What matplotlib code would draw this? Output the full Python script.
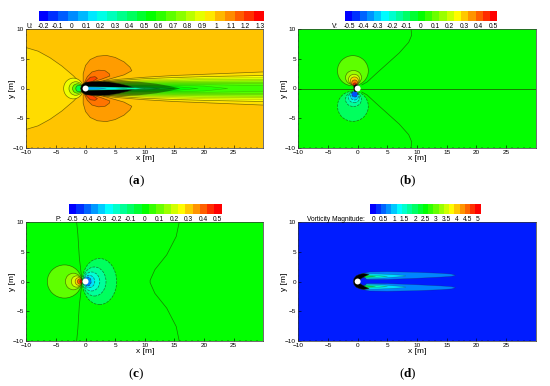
# -*- coding: utf-8 -*-
import matplotlib
matplotlib.use("Agg")
import matplotlib.pyplot as plt
import numpy as np
from matplotlib.colors import LinearSegmentedColormap, Normalize
from matplotlib.patches import Ellipse, Circle

plt.rcParams['font.family'] = ['Liberation Sans', 'DejaVu Sans']
plt.rcParams['mathtext.fontset'] = 'custom'
plt.rcParams['mathtext.bf'] = 'Liberation Serif:bold'

W, H = 550.0, 386.0

# --- data ---
x_ticks = [-10, -5, 0, 5, 10, 15, 20, 25]
y_ticks = [-10, -5, 0, 5, 10]

u_ticks = [-0.2, -0.1, 0, 0.1, 0.2, 0.3, 0.4, 0.5, 0.6, 0.7, 0.8, 0.9, 1, 1.1, 1.2, 1.3]
v_ticks = [-0.5, -0.4, -0.3, -0.2, -0.1, 0, 0.1, 0.2, 0.3, 0.4, 0.5]
p_ticks = [-0.5, -0.4, -0.3, -0.2, -0.1, 0, 0.1, 0.2, 0.3, 0.4, 0.5]
w_ticks = [0, 0.5, 1, 1.5, 2, 2.5, 3, 3.5, 4, 4.5, 5]

u_background = 1.01
v_background = 0.0
p_background = 0.0
w_background = 0.15

# U: shapes symmetric around y=0, upper half only (value, points)
u_front_lobe = (0.975, [(-10, 6.9), (-8, 6.3), (-6, 5.2), (-4, 3.8), (-2, 2.1), (-0.6, 0.6), (-0.5, 0)])
u_side_lobes = [
    (1.07, [(-0.4, 0.8), (-0.4, 2.5), (0, 3.9), (0.8, 4.9), (2, 5.45), (3.5, 5.6), (5, 5.25), (6.5, 4.5),
            (7.5, 3.6), (7.8, 3.0), (6.5, 2.3), (3, 1.3), (0.5, 0.8)]),
    (1.13, [(-0.2, 1.0), (0.3, 2.0), (1.1, 2.8), (2.2, 3.1), (3.3, 3.0), (4, 2.5), (4.1, 2.1), (2.5, 1.5), (0.8, 1.0)]),
    (1.2, [(0, 1.1), (0.8, 1.9), (1.6, 2.0), (2, 1.7), (1.2, 1.2), (0.5, 1.0)]),
]
u_wake = [
    (0.97, [(1, 1.0), (5, 1.5), (10, 1.9), (15, 2.2), (20, 2.4), (25, 2.6), (30, 2.8)]),
    (0.92, [(2, 0.9), (5, 1.3), (10, 1.65), (15, 1.85), (20, 2.0), (25, 2.1), (30, 2.2)]),
    (0.87, [(3, 0.9), (5, 1.15), (10, 1.45), (15, 1.6), (20, 1.75), (30, 1.85)]),
    (0.81, [(3, 0.8), (5, 1.05), (10, 1.3), (15, 1.4), (20, 1.5), (30, 1.55)]),
    (0.76, [(3, 0.7), (5, 0.95), (10, 1.15), (15, 1.2), (20, 1.25), (30, 1.3)]),
    (0.71, [(3, 0.6), (5, 0.85), (10, 1.0), (15, 1.05), (20, 1.05), (30, 1.05)]),
    (0.67, [(3, 0.5), (5, 0.75), (10, 0.85), (15, 0.9), (20, 0.85), (30, 0.8)]),
    (0.64, [(3, 0.4), (5, 0.65), (10, 0.7), (15, 0.72), (20, 0.65), (30, 0.5)]),
    (0.60, [(3, 0.35), (5, 0.55), (10, 0.55), (15, 0.55), (20, 0.42), (24, 0)]),
    (0.55, [(3, 0.3), (5, 0.45), (10, 0.45), (15, 0.35), (19, 0)]),
    (0.49, [(3, 0.3), (5, 0.38), (10, 0.3), (15, 0)]),
    (0.42, [(3, 0.3), (5, 0.3), (10, 0.2), (12.5, 0)]),
]
u_shade = [(3, 1.3), (6, 1.35), (9, 1.15), (12, 0.8), (14, 0.45), (16, 0)]
u_core = [(-0.85, 0), (-0.65, 0.6), (0, 1.05), (1, 1.15), (2.5, 1.2), (4, 1.1), (5.5, 0.85), (7, 0.5), (8.5, 0)]
u_strip = [
    (0.30, [(0.2, 0.3), (5, 0.24), (8, 0.15), (10, 0)]),
    (0.15, [(0.2, 0.26), (3, 0.2), (5, 0.12), (7, 0)]),
    (0.05, [(0.2, 0.2), (2, 0.14), (3.5, 0)]),
]
# ellipses: value, centre x, centre y, half width, half height
u_front_rings = [
    (0.90, -2.05, 0, 1.65, 1.75),
    (0.82, -1.65, 0, 1.15, 1.15),
    (0.68, -1.35, 0, 0.85, 0.8),
    (0.45, -1.1, 0, 0.55, 0.55),
]

v_upper_line = [(9, 10), (9.1, 9), (8.6, 7.8), (7, 6), (5, 4.2), (3, 2.4), (1.6, 1.1), (0.7, 0.6)]
v_upper_rings = [
    (0.09, -0.8, 3.0, 2.6, 2.55),
    (0.15, -0.7, 1.85, 1.35, 1.2),
    (0.21, -0.6, 1.5, 0.95, 0.9),
    (0.30, -0.55, 1.25, 0.7, 0.7),
    (0.38, -0.5, 0.95, 0.5, 0.5),
    (0.47, -0.45, 0.65, 0.3, 0.3),
]
v_lower_rings = [
    (-0.09, -0.8, -3.0, 2.6, 2.55),
    (-0.15, -0.7, -1.85, 1.35, 1.2),
    (-0.21, -0.6, -1.5, 0.95, 0.9),
    (-0.30, -0.55, -1.25, 0.7, 0.7),
    (-0.42, -0.5, -0.95, 0.5, 0.5),
]
v_core = [(-0.65, 0.0), (-0.65, 0.5), (-0.3, 0.7), (0.1, 0.55), (0.0, 0.0), (-0.1, -0.5), (-0.4, -0.55), (-0.6, -0.4)]

p_front_line = [(-1.5, 10), (-1.3, 8), (-1.05, 4), (-0.7, 1)]
p_rear_line = [(15.8, 10), (15.3, 7.6), (13.7, 4.5), (11.7, 2), (10.9, 0.2), (10.9, 0)]
p_front_rings = [
    (0.09, -3.55, 0, 2.9, 2.8),
    (0.15, -2.05, 0, 1.35, 1.4),
    (0.21, -1.5, 0, 0.9, 0.95),
    (0.29, -1.15, 0, 0.6, 0.65),
    (0.40, -0.95, 0, 0.42, 0.45),
    (0.50, -0.72, 0, 0.25, 0.3),
]
p_rear_rings = [
    (-0.09, 2.35, 0, 2.9, 3.9),
    (-0.15, 1.5, 0, 1.95, 2.45),
    (-0.21, 1.0, 0, 1.4, 1.6),
    (-0.28, 0.6, 0, 0.95, 1.05),
    (-0.38, 0.35, 0, 0.6, 0.75),
]

# vorticity: upper half of the two wake tails, mirrored for the lower one
w_tails = [
    (0.65, [(0.6, 1.3), (2, 1.6), (5, 1.65), (10, 1.55), (14, 1.38), (15.8, 1.25), (16.5, 1.05), (15.8, 0.87),
            (14, 0.75), (10, 0.55), (5, 0.35), (1.5, 0.35)]),
    (1.1, [(0.8, 1.2), (2, 1.3), (4, 1.25), (6, 1.15), (7.5, 1.05), (8.1, 0.95), (7.5, 0.85), (6, 0.72), (4, 0.55),
           (1.5, 0.45)]),
    (1.6, [(0.9, 1.1), (2, 1.08), (3.5, 1.0), (5, 0.85), (3.5, 0.72), (1.5, 0.65)]),
    (2.2, [(1, 1.0), (1.8, 0.95), (3, 0.85), (1.8, 0.75), (1, 0.7)]),
]
w_crescent = [(-0.72, 0), (-0.62, 0.5), (-0.25, 0.95), (0.3, 1.2), (1, 1.35), (1.9, 1.2), (1.2, 0.85), (0.6, 0.5), (0.3, 0.3)]

captions = ['a', 'b', 'c', 'd']

# --- colours ---
contour_cmap = LinearSegmentedColormap.from_list(
    'rainbow_small', ['#0000ff', '#00ffff', '#00ff00', '#ffff00', '#ff0000'])
line_col = (0.15, 0.15, 0.0, 0.6)
faint_line = (0.15, 0.15, 0.0, 0.3)


def make_axes(left, top, right, bottom):
    return fig.add_axes([left / W, 1 - bottom / H, (right - left) / W, (bottom - top) / H])


def setup_panel(ax, back, norm):
    ax.set_facecolor(contour_cmap(norm(back)))
    ax.set_xlim(-10, 30)
    ax.set_ylim(-10, 10)
    ax.set_xticks(x_ticks)
    ax.set_yticks(y_ticks)
    ax.set_xticks(np.arange(-10, 30, 1), minor=True)
    ax.set_yticks(np.arange(-10, 10, 1), minor=True)
    ax.tick_params(which='major', direction='in', length=2, width=0.4, labelsize=4.6, pad=1.5)
    ax.tick_params(which='minor', direction='in', length=1, width=0.3)
    ax.set_xlabel('x [m]', fontsize=6, labelpad=0.5)
    ax.set_ylabel('y [m]', fontsize=6, labelpad=-2)
    for sp in ax.spines.values():
        sp.set_linewidth(0.5)
        sp.set_color('#333333')


def mirror(pts):
    upper = list(pts)
    lower = [(px, -py) for px, py in reversed(upper) if py != 0]
    return upper + lower


def fill_shape(ax, pts, colour, dashed=False, edge=line_col, lw=0.5):
    xs = [p[0] for p in pts]
    ys = [p[1] for p in pts]
    ax.fill(xs, ys, facecolor=colour, edgecolor=edge, linewidth=lw,
            linestyle='--' if dashed else '-', joinstyle='round')


def draw_rings(ax, rings, norm, dashed=False):
    for val, cx, cy, rx, ry in rings:
        ax.add_patch(Ellipse((cx, cy), 2 * rx, 2 * ry, facecolor=contour_cmap(norm(val)),
                             edgecolor=line_col, linewidth=0.5, linestyle='--' if dashed else '-'))


def draw_line(ax, pts, lw=0.5, zorder=2):
    ax.plot([p[0] for p in pts], [p[1] for p in pts], color=line_col, linewidth=lw, zorder=zorder)


def add_cylinder(ax):
    ax.add_patch(Circle((0, 0), 0.5, facecolor='white', edgecolor='none', zorder=10))


def colour_bar(left, top, right, bottom, ticks, vmin, vmax, n, norm, name, name_x):
    cax = make_axes(left, top, right, bottom)
    edges = np.linspace(vmin, vmax, n + 1)
    mids = 0.5 * (edges[:-1] + edges[1:])
    cax.pcolormesh(edges, [0, 1], [mids], cmap=contour_cmap, norm=norm)
    cax.set_xlim(vmin, vmax)
    cax.set_yticks([])
    cax.set_xticks(ticks)
    cax.set_xticklabels([f'{t:g}' for t in ticks], fontsize=4.8)
    cax.tick_params(axis='x', length=0, pad=1.8)
    for sp in cax.spines.values():
        sp.set_visible(False)
    fig.text(name_x / W, 1 - (bottom + 5.6) / H, name, fontsize=4.8, ha='right', va='center')


fig = plt.figure(figsize=(5.5, 3.86), dpi=100)

# --- (a) U ---
norm_u = Normalize(-0.2, 1.3)
ax_a = make_axes(26.3, 29.3, 263.3, 147.7)
setup_panel(ax_a, u_background, norm_u)
fill_shape(ax_a, mirror(u_front_lobe[1]), contour_cmap(norm_u(u_front_lobe[0])))
draw_rings(ax_a, u_front_rings, norm_u)
for val, pts in u_side_lobes:
    fill_shape(ax_a, pts, contour_cmap(norm_u(val)))
    fill_shape(ax_a, [(px, -py) for px, py in pts], contour_cmap(norm_u(val)))
for i, (val, pts) in enumerate(u_wake):
    closed = pts + [(pts[-1][0], 0)] if pts[-1][1] != 0 else pts
    fill_shape(ax_a, mirror(closed), contour_cmap(norm_u(val)),
               edge=line_col if i < 2 else faint_line, lw=0.5 if i < 2 else 0.35)
# dense contour lines in the near wake read as a dark shade at this size
fill_shape(ax_a, mirror(u_shade), (0, 0, 0, 0.4), edge='none', lw=0)
fill_shape(ax_a, mirror(u_core), 'black')
for val, pts in u_strip:
    fill_shape(ax_a, mirror(pts), contour_cmap(norm_u(val)), edge=faint_line, lw=0.3)
add_cylinder(ax_a)
colour_bar(38.7, 11.3, 264, 20.7, u_ticks, -0.23, 1.33, 23, norm_u, 'U:', 33)

# --- (b) V ---
norm_v = Normalize(-0.5, 0.5)
ax_b = make_axes(298.3, 29.3, 535.7, 147.7)
setup_panel(ax_b, v_background, norm_v)
draw_line(ax_b, v_upper_line)
draw_line(ax_b, [(px, -py) for px, py in v_upper_line])
draw_rings(ax_b, v_upper_rings, norm_v)
draw_rings(ax_b, v_lower_rings, norm_v, dashed=True)
draw_line(ax_b, [(-10, 0), (30, 0)], lw=0.7, zorder=5)
fill_shape(ax_b, v_core, 'black')
add_cylinder(ax_b)
colour_bar(345, 11.3, 497.3, 20.7, v_ticks, -0.528, 0.53, 21, norm_v, 'V:', 338)

# --- (c) P ---
norm_p = Normalize(-0.5, 0.5)
ax_c = make_axes(26.3, 222.3, 263.3, 340.7)
setup_panel(ax_c, p_background, norm_p)
draw_line(ax_c, mirror(p_front_line))
draw_line(ax_c, mirror(p_rear_line))
draw_rings(ax_c, p_front_rings, norm_p)
draw_rings(ax_c, p_rear_rings, norm_p, dashed=True)
add_cylinder(ax_c)
colour_bar(69, 204.3, 221.7, 213.7, p_ticks, -0.525, 0.53, 21, norm_p, 'P:', 62)

# --- (d) vorticity ---
norm_w = Normalize(0, 5)
ax_d = make_axes(298.3, 222.3, 535.7, 340.7)
setup_panel(ax_d, w_background, norm_w)
for val, pts in w_tails:
    fill_shape(ax_d, pts, contour_cmap(norm_w(val)), edge=faint_line, lw=0.4)
    fill_shape(ax_d, [(px, -py) for px, py in pts], contour_cmap(norm_w(val)), edge=faint_line, lw=0.4)
fill_shape(ax_d, mirror(w_crescent), 'black')
add_cylinder(ax_d)
colour_bar(370.3, 204.3, 480.7, 213.7, w_ticks, -0.14, 5.14, 21, norm_w, 'Vorticity Magnitude:', 365)

# --- captions ---
for label, cx, cy in zip(captions, [136, 408, 136, 408], [181, 181, 374, 374]):
    fig.text(cx / W, 1 - cy / H, '($\\mathbf{' + label + '}$)', fontsize=9.5,
             family=['Liberation Serif', 'DejaVu Serif'], ha='center', va='center')

fig.savefig('out.png', dpi=100)
